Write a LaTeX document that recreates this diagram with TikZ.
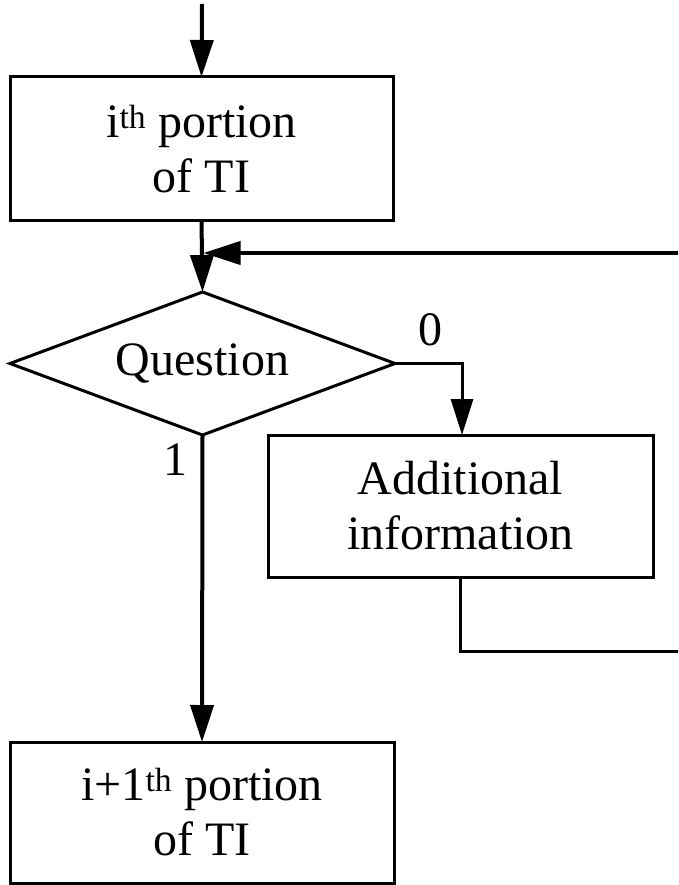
\documentclass[tikz,border=0pt]{standalone}
\usepackage{fontspec}
\setmainfont{Liberation Serif}
\usetikzlibrary{shapes.geometric,arrows.meta}
\tikzset{
  box/.style={draw, line width=3pt, rectangle, inner sep=0pt, outer sep=0pt, align=center,
    font=\fontsize{48}{55}\selectfont},
  decision/.style={draw, line width=3pt, diamond, aspect=2.69, inner sep=0pt, outer sep=0pt,
    font=\fontsize{48}{55}\selectfont},
  lbl/.style={inner sep=0pt, font=\fontsize{48}{55}\selectfont},
  flow/.style={line width=4pt, -{Triangle[length=37pt,width=23pt]}},
  thinflow/.style={line width=3pt, -{Triangle[length=36pt,width=22pt]}},
  plain/.style={line width=3pt},
}
\begin{document}
\begin{tikzpicture}[x=1pt,y=-1pt]
\useasboundingbox (0,0) rectangle (678,885);
\begin{scope}
\clip (0,0) rectangle (678,885);
\node[box, minimum width=383pt, minimum height=144pt] (b1) at (201.5,149) {i\textsuperscript{th} portion\\of TI};
\node[decision, minimum width=385pt, minimum height=143pt] (dq) at (202.5,363.5) {Question};
\node[box, minimum width=385pt, minimum height=142pt] (b2) at (460.5,506) {Additional\\information};
\node[box, minimum width=384pt, minimum height=141pt] (b3) at (202,812.5) {i+1\textsuperscript{th} portion\\of TI};
\node[lbl] (l0) at (430,330) {0};
\node[lbl] (l1) at (175,460) {1};
\coordinate (top) at (202,4);
\coordinate (fbR) at (700,253);
\coordinate (loopR) at (700,651);
\draw[flow] (top) -- (b1.north);
\draw[flow] (b1.south) -- (dq.north);
\draw[thinflow] (dq.east) -| ([xshift=1.5pt]b2.north);
\draw[flow] (dq.south) -- (b3.north);
\draw[plain] (b2.south) |- (loopR);
\draw[flow] (fbR) -- ([xshift=2pt]b1.south |- fbR);
\end{scope}
\end{tikzpicture}
\end{document}
